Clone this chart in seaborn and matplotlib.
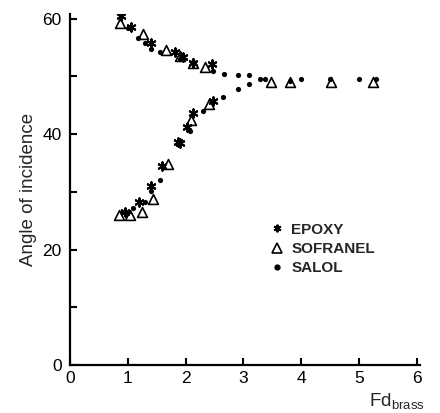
import matplotlib
matplotlib.use("Agg")
import matplotlib.pyplot as plt
import seaborn as sns
import pandas as pd
from matplotlib.lines import Line2D

sns.set_theme(style="ticks")
plt.rcParams["font.family"] = ["Liberation Sans", "DejaVu Sans"]
plt.rcParams["mathtext.fontset"] = "custom"
plt.rcParams["mathtext.rm"] = "Liberation Sans"

# Angle of incidence vs Fd for three couplants
epoxy_x = [0.88, 1.05, 1.40, 1.81, 1.95, 2.12, 2.45,
           0.95, 1.19, 1.41, 1.60, 1.86, 1.90, 2.02, 2.12, 2.47]
epoxy_y = [60.4, 58.6, 55.7, 54.2, 53.3, 52.4, 52.2,
           26.5, 28.2, 31.1, 34.4, 38.6, 38.4, 41.3, 43.6, 45.8]

sofranel_x = [0.86, 1.26, 1.66, 1.90, 2.12, 2.33, 3.48, 3.81, 4.52, 5.24,
              0.84, 1.03, 1.24, 1.43, 1.69, 2.10, 2.40]
sofranel_y = [59.2, 57.4, 54.5, 53.6, 52.4, 51.6, 49.0, 49.0, 49.0, 49.0,
              26.0, 26.0, 26.6, 28.7, 34.8, 42.4, 45.3]

salol_x = [1.00, 1.17, 1.29, 1.40, 1.55, 1.90, 2.48, 2.67, 2.90, 3.10, 3.28,
           3.38, 3.81, 4.00, 4.50, 5.00, 5.29,
           0.91, 1.00, 1.09, 1.29, 1.40, 1.55, 2.08, 2.30, 2.64, 2.90, 3.10]
salol_y = [58.3, 56.7, 55.7, 54.8, 54.3, 53.1, 51.0, 50.5, 50.3, 50.3, 49.5,
           49.6, 49.2, 49.5, 49.6, 49.5, 49.5,
           26.5, 26.6, 27.2, 28.2, 30.1, 32.0, 40.5, 44.0, 46.5, 47.8, 48.6]

labels = ["EPOXY", "SOFRANEL", "SALOL"]
x_ticks = [0, 1, 2, 3, 4, 5, 6]
y_ticks = [0, 20, 40, 60]
y_minor = [10, 30, 50]

star = (6, 2, 0)

fig = plt.figure(figsize=(4.4, 4.13), dpi=100)
ax = fig.add_axes([0.159, 0.116, 0.795, 0.85])

df_e = pd.DataFrame({"x": epoxy_x, "y": epoxy_y})
df_s = pd.DataFrame({"x": sofranel_x, "y": sofranel_y})
df_l = pd.DataFrame({"x": salol_x, "y": salol_y})

sns.scatterplot(data=df_s, x="x", y="y", ax=ax, marker="^", s=50,
                facecolor="white", edgecolor="black", linewidth=1.2, zorder=2)
sns.scatterplot(data=df_l, x="x", y="y", ax=ax, marker="o", s=14,
                color="black", edgecolor="black", linewidth=0, zorder=3)
sns.scatterplot(data=df_e, x="x", y="y", ax=ax, marker=star, s=36,
                color="black", edgecolor="black", linewidth=1.5, zorder=4)

ax.set_xlim(0, 6.05)
ax.set_ylim(0, 60.8)
ax.set_xticks(x_ticks)
ax.set_yticks(y_ticks)
ax.set_yticks(y_minor, minor=True)
ax.set_xticklabels([str(v) for v in x_ticks])
ax.set_yticklabels([str(v) for v in y_ticks])

for side in ["top", "right"]:
    ax.spines[side].set_visible(False)
for side in ["left", "bottom"]:
    ax.spines[side].set_linewidth(1.6)
    ax.spines[side].set_color("black")

ax.tick_params(axis="both", which="both", direction="in", length=5, width=1.5,
               colors="black", labelsize=12.5)
ax.tick_params(axis="y", which="major", pad=6)
ax.tick_params(axis="x", which="major", pad=4)
ax.tick_params(axis="y", which="minor", length=5)

ax.set_ylabel("Angle of incidence", fontsize=13.5, labelpad=4)
ax.set_xlabel(r"Fd$_{\rm brass}$", fontsize=13.5)
ax.xaxis.set_label_coords(0.935, -0.075)

handles = [
    Line2D([], [], linestyle="none", marker=star, markersize=5.5,
           color="black", markeredgewidth=1.4),
    Line2D([], [], linestyle="none", marker="^", markersize=7,
           markerfacecolor="white", markeredgecolor="black", markeredgewidth=1.2),
    Line2D([], [], linestyle="none", marker="o", markersize=3.5, color="black"),
]
leg = ax.legend(handles, labels, loc="upper left", bbox_to_anchor=(0.53, 0.445),
                frameon=False, fontsize=11, handlelength=1.0, handletextpad=0.45,
                labelspacing=0.35)
for t in leg.get_texts():
    t.set_fontweight("bold")

fig.savefig("out.png", dpi=100)
